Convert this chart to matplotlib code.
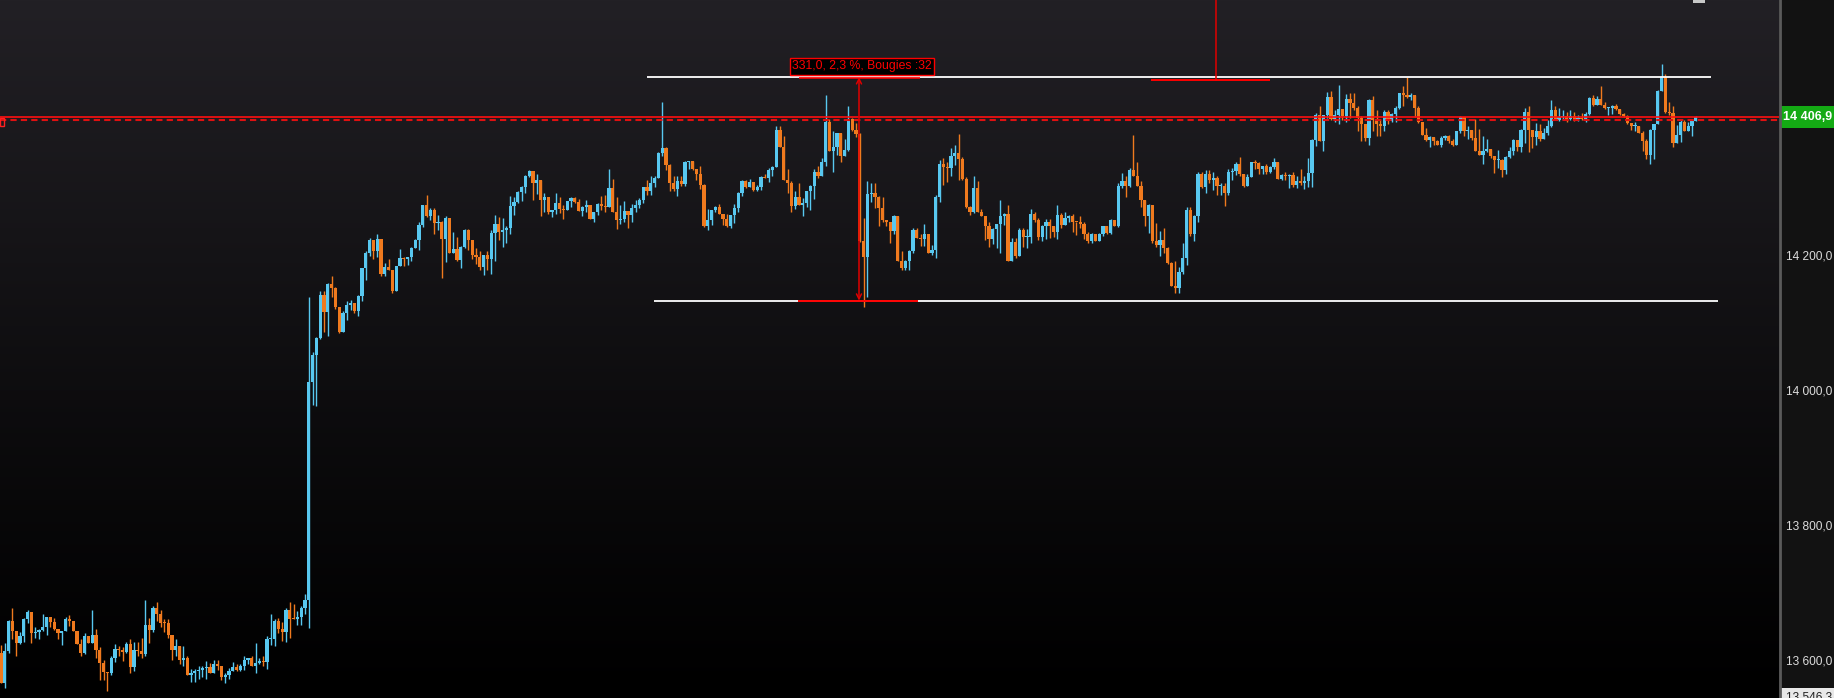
import numpy as np
import matplotlib
matplotlib.use("Agg")
from matplotlib import pyplot as plt
from matplotlib.patches import Rectangle
from matplotlib.lines import Line2D
import matplotlib.transforms as mtrans

plt.rcParams['font.family'] = ['Liberation Sans', 'DejaVu Sans']

# ---- data ----
first_open = 13613

closes = [
    13569, 13616, 13660, 13645, 13628, 13638, 13664, 13673, 13642, 13644,
    13647, 13652, 13666, 13659, 13649, 13643, 13646, 13664, 13660, 13645,
    13627, 13613, 13638, 13628, 13640, 13618, 13598, 13585, 13583, 13605,
    13619, 13617, 13614, 13627, 13592, 13618, 13616, 13611, 13655, 13647,
    13679, 13671, 13658, 13657, 13640, 13618, 13624, 13603, 13606, 13581,
    13583, 13586, 13588, 13591, 13592, 13584, 13596, 13593, 13578, 13581,
    13587, 13592, 13588, 13594, 13603, 13605, 13594, 13598, 13601, 13599,
    13633, 13634, 13660, 13648, 13644, 13676, 13664, 13663, 13667, 13680,
    13691, 14014, 14055, 14079, 14144, 14118, 14159, 14154, 14125, 14089,
    14117, 14129, 14132, 14119, 14142, 14183, 14205, 14225, 14208, 14227,
    14175, 14185, 14180, 14150, 14187, 14198, 14196, 14199, 14213, 14225,
    14247, 14276, 14260, 14270, 14250, 14252, 14226, 14257, 14205, 14211,
    14195, 14214, 14240, 14225, 14202, 14199, 14185, 14203, 14196, 14235,
    14249, 14236, 14239, 14242, 14275, 14281, 14296, 14304, 14320, 14327,
    14310, 14313, 14284, 14288, 14267, 14269, 14279, 14271, 14269, 14282,
    14287, 14281, 14268, 14273, 14276, 14256, 14266, 14278, 14275, 14274,
    14302, 14267, 14254, 14256, 14268, 14262, 14272, 14277, 14284, 14303,
    14298, 14309, 14317, 14354, 14361, 14336, 14310, 14300, 14312, 14308,
    14341, 14342, 14330, 14322, 14307, 14245, 14254, 14270, 14273, 14264,
    14256, 14246, 14262, 14272, 14294, 14312, 14303, 14311, 14299, 14304,
    14318, 14316, 14329, 14333, 14388, 14363, 14314, 14309, 14275, 14289,
    14276, 14280, 14297, 14305, 14325, 14319, 14341, 14400, 14356, 14362,
    14383, 14350, 14358, 14404, 14388, 14382, 14223, 14200, 14293, 14295,
    14289, 14272, 14255, 14251, 14238, 14261, 14193, 14183, 14193, 14209,
    14240, 14228, 14226, 14234, 14206, 14210, 14289, 14338, 14333, 14331,
    14350, 14353, 14345, 14315, 14274, 14266, 14302, 14266, 14261, 14245,
    14226, 14241, 14248, 14261, 14264, 14193, 14222, 14201, 14240, 14229,
    14230, 14264, 14255, 14230, 14245, 14252, 14245, 14236, 14262, 14247,
    14257, 14260, 14252, 14251, 14249, 14233, 14223, 14234, 14224, 14234,
    14245, 14235, 14255, 14245, 14305, 14312, 14305, 14328, 14319, 14305,
    14284, 14261, 14277, 14223, 14218, 14225, 14213, 14191, 14157, 14154,
    14178, 14198, 14270, 14233, 14260, 14323, 14304, 14323, 14314, 14316,
    14305, 14305, 14294, 14325, 14327, 14338, 14323, 14305, 14318, 14341,
    14339, 14330, 14334, 14326, 14333, 14341, 14315, 14321, 14319, 14321,
    14307, 14312, 14310, 14312, 14324, 14373, 14410, 14372, 14410, 14437,
    14404, 14410, 14419, 14408, 14433, 14428, 14420, 14405, 14396, 14376,
    14432, 14403, 14396, 14394, 14415, 14401, 14411, 14420, 14442, 14440,
    14437, 14439, 14421, 14399, 14381, 14373, 14378, 14371, 14366, 14376,
    14379, 14371, 14366, 14386, 14407, 14386, 14388, 14376, 14356, 14351,
    14356, 14360, 14349, 14343, 14344, 14328, 14348, 14356, 14373, 14363,
    14388, 14415, 14388, 14378, 14386, 14374, 14384, 14394, 14418, 14403,
    14407, 14408, 14404, 14409, 14404, 14406, 14404, 14412, 14435, 14425,
    14433, 14425, 14420, 14420, 14424, 14419, 14412, 14408, 14398, 14393,
    14393, 14383, 14371, 14351, 14388, 14396, 14446, 14466, 14415, 14413,
    14369, 14381, 14400, 14387, 14394, 14401, 14406.9,
]

highs = [
    13625, 13628, 13662, 13679, 13643, 13644, 13665, 13677, 13673, 13652,
    13648, 13671, 13667, 13667, 13665, 13649, 13646, 13666, 13670, 13659,
    13643, 13633, 13642, 13638, 13676, 13648, 13622, 13603, 13585, 13608,
    13627, 13624, 13622, 13630, 13633, 13629, 13629, 13635, 13691, 13665,
    13683, 13689, 13676, 13664, 13664, 13637, 13634, 13624, 13624, 13608,
    13590, 13590, 13594, 13594, 13601, 13598, 13603, 13603, 13594, 13584,
    13591, 13599, 13596, 13596, 13609, 13606, 13609, 13628, 13606, 13608,
    13638, 13671, 13663, 13665, 13659, 13680, 13688, 13685, 13675, 13682,
    13700, 14141, 14059, 14081, 14149, 14150, 14161, 14171, 14155, 14124,
    14119, 14135, 14136, 14132, 14144, 14183, 14209, 14228, 14219, 14234,
    14194, 14191, 14197, 14181, 14187, 14211, 14200, 14200, 14214, 14227,
    14252, 14277, 14292, 14272, 14272, 14262, 14253, 14261, 14257, 14236,
    14230, 14216, 14241, 14241, 14223, 14213, 14208, 14203, 14208, 14239,
    14262, 14259, 14257, 14246, 14290, 14289, 14297, 14305, 14321, 14329,
    14327, 14323, 14285, 14295, 14285, 14270, 14295, 14288, 14276, 14283,
    14288, 14289, 14285, 14275, 14284, 14277, 14267, 14280, 14290, 14292,
    14330, 14315, 14288, 14276, 14283, 14268, 14278, 14284, 14287, 14304,
    14314, 14319, 14320, 14355, 14430, 14363, 14338, 14320, 14320, 14320,
    14342, 14342, 14341, 14330, 14334, 14308, 14271, 14270, 14275, 14278,
    14264, 14264, 14262, 14278, 14296, 14313, 14313, 14315, 14310, 14307,
    14319, 14322, 14331, 14335, 14393, 14394, 14379, 14330, 14312, 14298,
    14310, 14287, 14298, 14307, 14330, 14335, 14346, 14440, 14404, 14387,
    14384, 14384, 14374, 14424, 14405, 14398, 14384, 14257, 14312, 14310,
    14310, 14290, 14289, 14255, 14250, 14262, 14230, 14208, 14195, 14210,
    14243, 14242, 14234, 14249, 14234, 14218, 14292, 14343, 14346, 14341,
    14361, 14366, 14382, 14348, 14318, 14275, 14319, 14312, 14271, 14261,
    14252, 14242, 14248, 14284, 14265, 14276, 14228, 14228, 14242, 14242,
    14241, 14271, 14267, 14257, 14247, 14256, 14256, 14240, 14276, 14265,
    14266, 14262, 14264, 14252, 14260, 14251, 14237, 14235, 14234, 14235,
    14246, 14246, 14256, 14255, 14309, 14324, 14319, 14331, 14381, 14341,
    14312, 14284, 14278, 14277, 14250, 14238, 14242, 14215, 14192, 14193,
    14185, 14221, 14273, 14273, 14262, 14325, 14325, 14328, 14328, 14325,
    14320, 14310, 14309, 14330, 14331, 14340, 14348, 14319, 14323, 14341,
    14344, 14340, 14335, 14338, 14335, 14346, 14339, 14322, 14326, 14322,
    14326, 14319, 14330, 14320, 14346, 14374, 14413, 14424, 14410, 14444,
    14446, 14418, 14455, 14419, 14441, 14442, 14442, 14423, 14409, 14397,
    14434, 14438, 14418, 14404, 14418, 14418, 14413, 14423, 14443, 14453,
    14466, 14443, 14423, 14424, 14399, 14391, 14379, 14378, 14373, 14379,
    14381, 14381, 14374, 14387, 14409, 14405, 14393, 14386, 14404, 14389,
    14379, 14374, 14360, 14350, 14358, 14345, 14350, 14363, 14374, 14373,
    14389, 14420, 14424, 14381, 14398, 14396, 14391, 14402, 14432, 14424,
    14420, 14417, 14415, 14417, 14415, 14410, 14413, 14415, 14437, 14440,
    14438, 14453, 14429, 14422, 14425, 14427, 14419, 14413, 14410, 14398,
    14400, 14393, 14386, 14374, 14389, 14397, 14447, 14485, 14471, 14429,
    14423, 14395, 14403, 14402, 14399, 14402, 14409,
]

lows = [
    13569, 13561, 13613, 13633, 13608, 13627, 13629, 13658, 13628, 13635,
    13633, 13645, 13639, 13652, 13647, 13633, 13625, 13645, 13653, 13645,
    13626, 13608, 13611, 13628, 13629, 13606, 13573, 13573, 13556, 13580,
    13599, 13608, 13601, 13613, 13584, 13587, 13608, 13606, 13608, 13628,
    13644, 13660, 13652, 13644, 13635, 13603, 13609, 13596, 13594, 13580,
    13570, 13570, 13575, 13578, 13575, 13584, 13588, 13588, 13573, 13568,
    13574, 13586, 13586, 13587, 13588, 13597, 13594, 13584, 13597, 13594,
    13590, 13625, 13623, 13643, 13631, 13630, 13635, 13663, 13655, 13655,
    13671, 13650, 13981, 13979, 14078, 14089, 14083, 14140, 14122, 14087,
    14088, 14107, 14121, 14117, 14112, 14134, 14166, 14201, 14196, 14200,
    14172, 14172, 14180, 14147, 14150, 14187, 14187, 14188, 14193, 14213,
    14210, 14244, 14259, 14255, 14234, 14240, 14168, 14192, 14205, 14205,
    14193, 14183, 14213, 14210, 14196, 14190, 14181, 14173, 14180, 14175,
    14193, 14225, 14215, 14220, 14234, 14262, 14279, 14283, 14295, 14318,
    14284, 14293, 14260, 14266, 14264, 14259, 14264, 14265, 14256, 14269,
    14274, 14280, 14268, 14261, 14267, 14256, 14252, 14262, 14269, 14266,
    14276, 14267, 14241, 14249, 14251, 14242, 14252, 14267, 14272, 14279,
    14292, 14292, 14304, 14317, 14349, 14329, 14298, 14298, 14290, 14305,
    14305, 14330, 14329, 14313, 14300, 14244, 14240, 14247, 14266, 14264,
    14247, 14244, 14242, 14250, 14267, 14290, 14302, 14304, 14298, 14297,
    14299, 14316, 14311, 14320, 14333, 14363, 14314, 14294, 14266, 14271,
    14276, 14261, 14274, 14270, 14286, 14316, 14321, 14334, 14356, 14326,
    14351, 14341, 14353, 14357, 14386, 14378, 14222, 14126, 14141, 14281,
    14272, 14245, 14252, 14245, 14220, 14234, 14193, 14180, 14180, 14180,
    14205, 14228, 14216, 14216, 14206, 14203, 14198, 14281, 14307, 14311,
    14320, 14336, 14314, 14314, 14272, 14262, 14265, 14266, 14261, 14225,
    14215, 14219, 14213, 14206, 14247, 14193, 14196, 14198, 14204, 14214,
    14213, 14220, 14252, 14225, 14224, 14226, 14228, 14230, 14226, 14242,
    14255, 14252, 14237, 14232, 14243, 14226, 14221, 14221, 14223, 14224,
    14231, 14233, 14234, 14245, 14244, 14302, 14289, 14304, 14319, 14305,
    14274, 14246, 14235, 14220, 14215, 14201, 14205, 14190, 14157, 14147,
    14147, 14175, 14188, 14231, 14223, 14251, 14302, 14295, 14309, 14299,
    14292, 14292, 14275, 14292, 14314, 14321, 14319, 14304, 14315, 14319,
    14330, 14323, 14323, 14323, 14324, 14330, 14315, 14314, 14314, 14302,
    14304, 14302, 14307, 14300, 14304, 14304, 14364, 14372, 14356, 14405,
    14403, 14399, 14396, 14403, 14400, 14405, 14418, 14387, 14372, 14371,
    14366, 14386, 14379, 14379, 14387, 14396, 14399, 14399, 14419, 14424,
    14435, 14432, 14407, 14398, 14381, 14371, 14363, 14366, 14365, 14363,
    14373, 14368, 14364, 14366, 14383, 14379, 14374, 14373, 14356, 14351,
    14338, 14355, 14346, 14324, 14331, 14318, 14323, 14346, 14351, 14356,
    14355, 14369, 14355, 14361, 14365, 14371, 14377, 14381, 14392, 14403,
    14401, 14402, 14399, 14402, 14401, 14401, 14402, 14399, 14410, 14423,
    14425, 14425, 14419, 14410, 14412, 14418, 14410, 14407, 14396, 14388,
    14387, 14383, 14356, 14345, 14338, 14345, 14397, 14445, 14413, 14410,
    14363, 14371, 14370, 14386, 14386, 14379, 14401,
]

price_ticks = [13600, 13800, 14000, 14200]
tick_labels = ["13 600,0", "13 800,0", "14 000,0", "14 200,0"]
bottom_price = 13546.3
bottom_label = "13 546,3"
bid_line = 14402
range_top = 14466
range_bottom = 14135
measure_text = "331,0, 2,3 %, Bougies :32"

assert len(closes) == len(highs) == len(lows), (len(closes), len(highs), len(lows))

# ---- layout ----
W, H = 1834, 698
PLOT_W = 1779
STEP = 3.8            # pixels per candle
PX_PER_PT = 0.675     # pixels per price point
UP = '#58c8f0'
DOWN = '#f07a1e'
RED = '#e00000'

closes = np.array(closes, dtype=float)
opens = np.concatenate([[first_open], closes[:-1]])
highs = np.maximum(np.array(highs, dtype=float), np.maximum(opens, closes))
lows = np.minimum(np.array(lows, dtype=float), np.minimum(opens, closes))
x = np.arange(len(closes))

fig = plt.figure(figsize=(W / 100, H / 100), dpi=100)
fig.patch.set_facecolor('#121212')
ax = fig.add_axes([0, 0, PLOT_W / W, 1])
ax.set_axis_off()

xmin = -1 / STEP
xmax = (PLOT_W - 1) / STEP
ymin = bottom_price
ymax = bottom_price + H / PX_PER_PT
ax.set_xlim(xmin, xmax)
ax.set_ylim(ymin, ymax)

# background gradient
t = np.linspace(0, 1, 300)[:, None]
top_col = np.array([0x22, 0x20, 0x25]) / 255
grad = (top_col[None, None, :] * (1 - t[:, :, None]) ** 1.1)
ax.imshow(grad, extent=(xmin, xmax, ymin, ymax), aspect='auto', origin='upper', zorder=0)

# candles
cols = np.where(closes >= opens, UP, DOWN)
ax.vlines(x, lows, highs, colors=cols, linewidth=1, zorder=2)
body_lo = np.minimum(opens, closes)
body_h = np.maximum(np.abs(closes - opens), 1.5)
ax.bar(x, body_h, 0.8, bottom=body_lo, color=cols, linewidth=0, zorder=3)

# current price lines
last = closes[-1]
ax.axhline(last, color='#ff1010', linewidth=1.2, zorder=4)
ax.axhline(bid_line, color='#e01010', linewidth=1.5, linestyle=(0, (3, 2)), zorder=4)
ax.add_patch(Rectangle((xmin, last - 13), 4 / STEP, 12, fill=False, edgecolor='#ff2020',
                       linewidth=1, zorder=5))

# range lines
ax.hlines(range_top, 646 / STEP, 1710 / STEP, color='white', linewidth=1.3, zorder=5)
ax.hlines(range_bottom, 653 / STEP, 1717 / STEP, color='white', linewidth=1.3, zorder=5)

# measurement tool
mx = 858 / STEP
ax.annotate('', xy=(mx, range_top), xytext=(mx, range_bottom),
            arrowprops=dict(arrowstyle='<->', color=RED, lw=1.1, mutation_scale=9,
                            shrinkA=0, shrinkB=0), zorder=6)
ax.hlines(range_top - 1.5, 798 / STEP, 919 / STEP, color='#ff0000', linewidth=1.2, zorder=6)
ax.hlines(range_bottom, 797 / STEP, 917 / STEP, color='#ff0000', linewidth=1.4, zorder=6)
ax.text(861 / STEP, range_top + 16, measure_text, color='#ff0000', fontsize=8.8,
        ha='center', va='center', zorder=7,
        bbox=dict(boxstyle='square,pad=0.2', facecolor='black', edgecolor='#ff0000', linewidth=1))

# second marker at the top
tx = 1215 / STEP
ax.vlines(tx, range_top - 5, ymax, color=RED, linewidth=1.1, zorder=6)
ax.hlines(range_top - 4, 1150 / STEP, 1269 / STEP, color='#ff0000', linewidth=1.4, zorder=6)

# small grey block at the top
fig.add_artist(Rectangle((1693 / W, 1 - 3 / H), 12 / W, 3 / H, transform=fig.transFigure,
                         facecolor='#c8c8c8', edgecolor='none'))

# right price scale
fig.add_artist(Line2D([PLOT_W / W + 0.5 / W] * 2, [0, 1], transform=fig.transFigure,
                      color='#5a5a5a', linewidth=2))
lab_tr = mtrans.blended_transform_factory(fig.transFigure, ax.transData)
for p, s in zip(price_ticks, tick_labels):
    ax.text(1786 / W, p, s, transform=lab_tr, color='#dcdcdc', fontsize=8.6,
            ha='left', va='center', clip_on=False)

# last price tag
y_last = (ymax - last) * PX_PER_PT
fig.add_artist(Rectangle((1780 / W, 1 - (y_last + 11) / H), 54 / W, 22 / H,
                         transform=fig.transFigure, facecolor='#14aa14', edgecolor='none'))
fig.text(1783 / W, 1 - y_last / H, f"{last:,.1f}".replace(',', ' ').replace('.', ','),
         color='white', fontsize=9.0, fontweight='bold', ha='left', va='center')

# bottom price tag
fig.add_artist(Rectangle((1780 / W, 0), 54 / W, 10 / H, transform=fig.transFigure,
                         facecolor='#e8e8e8', edgecolor='none'))
fig.text(1786 / W, 1 / H, bottom_label, color='#202020', fontsize=8.6, ha='left', va='center')

fig.savefig('out.png', dpi=100, facecolor=fig.get_facecolor())
